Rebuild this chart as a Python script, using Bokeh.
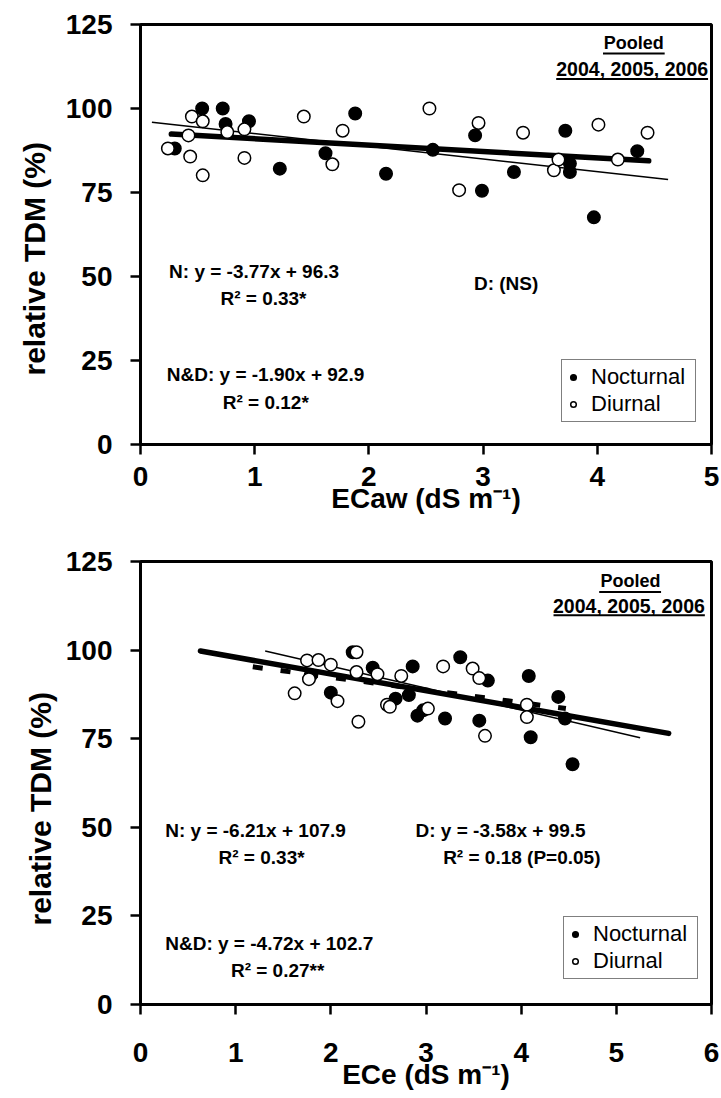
from bokeh.plotting import figure
from bokeh.models import Range1d, Label, FixedTicker, Title
from bokeh.layouts import column
from bokeh.embed import file_html
from bokeh.resources import INLINE

# ---------------- data: top panel (ECaw) ----------------
top_noct_x = [0.30, 0.54, 0.72, 0.745, 0.95, 1.22, 1.62, 1.88, 2.15, 2.56, 2.93, 2.99, 3.27, 3.72, 3.76, 3.76, 3.97, 4.35]
top_noct_y = [88.1, 100.0, 100.0, 95.4, 96.2, 82.1, 86.7, 98.5, 80.6, 87.7, 92.0, 75.5, 81.1, 93.4, 83.6, 81.1, 67.6, 87.3]
top_diur_x = [0.24, 0.42, 0.435, 0.45, 0.545, 0.545, 0.76, 0.91, 0.91, 1.43, 1.68, 1.77, 2.53, 2.79, 2.96, 3.35, 3.62, 3.66, 4.01, 4.18, 4.44]
top_diur_y = [88.1, 92.0, 85.7, 97.6, 96.2, 80.1, 93.0, 93.8, 85.3, 97.6, 83.4, 93.4, 100.0, 75.7, 95.7, 92.8, 81.6, 84.8, 95.2, 84.8, 92.8]
# regression lines: (slope, intercept, x_start, x_end)
top_fit_n = (-3.77, 96.3, 0.10, 4.62)
top_fit_nd = (-1.90, 92.9, 0.27, 4.45)
top_xticks = [0, 1, 2, 3, 4, 5]

# ---------------- data: bottom panel (ECe) ----------------
bot_noct_x = [1.79, 2.00, 2.23, 2.44, 2.68, 2.82, 2.86, 2.91, 2.97, 3.20, 3.36, 3.56, 3.65, 4.08, 4.10, 4.39, 4.46, 4.54]
bot_noct_y = [92.9, 88.0, 99.4, 95.0, 86.3, 87.3, 95.4, 81.5, 83.0, 80.7, 98.0, 80.1, 91.4, 92.7, 75.4, 86.8, 80.7, 67.8]
bot_diur_x = [1.62, 1.75, 1.77, 1.87, 2.00, 2.07, 2.27, 2.27, 2.29, 2.49, 2.59, 2.62, 2.74, 3.02, 3.18, 3.49, 3.56, 3.62, 4.06, 4.06]
bot_diur_y = [87.8, 97.1, 91.8, 97.2, 95.9, 85.6, 99.4, 93.8, 79.8, 93.2, 84.6, 84.0, 92.7, 83.5, 95.4, 94.8, 92.1, 75.8, 84.6, 81.1]
bot_fit_n = (-6.21, 107.9, 1.31, 5.25)
bot_fit_d = (-3.58, 99.5, 1.18, 4.47)
bot_fit_nd = (-4.72, 102.7, 0.63, 5.55)
bot_xticks = [0, 1, 2, 3, 4, 5, 6]

yticks = [0, 25, 50, 75, 100, 125]

FONT = "Liberation Sans"


def line_pts(fit):
    m, b, x0, x1 = fit
    return [x0, x1], [m * x0 + b, m * x1 + b]


def style(p, xticks, xlabel, label_standoff):
    p.xaxis.ticker = FixedTicker(ticks=xticks)
    p.yaxis.ticker = FixedTicker(ticks=yticks)
    p.xgrid.visible = False
    p.ygrid.visible = False
    p.outline_line_color = "black"
    p.outline_line_width = 3
    p.outline_line_alpha = 1
    for ax in (p.xaxis[0], p.yaxis[0]):
        ax.axis_line_width = 3
        ax.axis_line_color = "black"
        ax.major_tick_line_width = 2.5
        ax.major_tick_line_color = "black"
        ax.major_tick_out = 10
        ax.major_tick_in = 0
        ax.minor_tick_out = 0
        ax.minor_tick_in = 0
        ax.major_label_text_font = FONT
        ax.major_label_text_font_style = "bold"
        ax.major_label_text_font_size = "28px"
        ax.major_label_text_color = "black"
        ax.axis_label_text_font = FONT
        ax.axis_label_text_font_style = "bold"
        ax.axis_label_text_color = "black"
    p.xaxis.major_label_standoff = label_standoff
    p.yaxis.major_label_standoff = 18
    p.xaxis.axis_label = xlabel
    p.xaxis.axis_label_text_font_size = "28px"
    p.xaxis.axis_label_standoff = -6


def ann(p, x, y, text, align="left", size="19px"):
    p.add_layout(Label(x=x, y=y, text=text, text_font=FONT, text_font_style="bold",
                       text_font_size=size, text_baseline="middle", text_align=align,
                       text_color="black"))


def ytitle(p, offset, standoff):
    p.add_layout(Title(text="relative TDM (%)", align="left", offset=offset, standoff=standoff,
                       text_font=FONT, text_font_style="bold", text_font_size="30px",
                       text_color="black"), "left")


def points(p, nx, ny, dx, dy):
    p.scatter(nx, ny, size=12.5, marker="circle", fill_color="black", line_color="black",
              line_width=1.5, legend_label="Nocturnal")
    p.scatter(dx, dy, size=12.5, marker="circle", fill_color="white", line_color="black",
              line_width=1.5, legend_label="Diurnal")


def legend_style(p, loc):
    lg = p.legend[0]
    lg.location = loc
    lg.border_line_color = "black"
    lg.border_line_width = 1
    lg.background_fill_color = "white"
    lg.background_fill_alpha = 1
    lg.label_text_font = FONT
    lg.label_text_font_size = "22px"
    lg.label_text_color = "black"
    lg.glyph_width = 14
    lg.glyph_height = 14
    lg.label_standoff = 11
    lg.label_width = 100
    lg.label_height = 24
    lg.spacing = 1
    lg.padding = 4
    lg.margin = 0


# ---------------- top figure ----------------
p1 = figure(width=721, height=545, output_backend="svg", toolbar_location=None,
            x_range=Range1d(0, 5), y_range=Range1d(0, 125),
            min_border_left=136, min_border_right=10, min_border_top=24, min_border_bottom=101,
            background_fill_color="white", border_fill_color="white")
style(p1, top_xticks, "ECaw (dS m\u207b\u00b9)", 12)
ytitle(p1, 69, 24)

lx, ly = line_pts(top_fit_n)
p1.line(lx, ly, line_color="black", line_width=1.5)
lx, ly = line_pts(top_fit_nd)
p1.line(lx, ly, line_color="black", line_width=5.5, line_cap="round")
points(p1, top_noct_x, top_noct_y, top_diur_x, top_diur_y)
legend_style(p1, (421, 22))

ann(p1, 0.25, 51.6, "N: y = -3.77x + 96.3")
ann(p1, 0.70, 43.4, "R\u00b2 = 0.33*")
ann(p1, 2.92, 48.0, "D: (NS)")
ann(p1, 0.23, 20.8, "N&D: y = -1.90x + 92.9")
ann(p1, 0.72, 12.5, "R\u00b2 = 0.12*")
ann(p1, 4.32, 119.4, "Pooled", align="center", size="18px")
ann(p1, 4.97, 111.9, "2004, 2005, 2006", align="right", size="19.5px")
p1.segment(x0=[4.05, 3.64], y0=[116.4, 108.8], x1=[4.59, 4.97], y1=[116.4, 108.8],
           line_color="black", line_width=2)

# ---------------- bottom figure ----------------
p2 = figure(width=721, height=552, output_backend="svg", toolbar_location=None,
            x_range=Range1d(0, 6), y_range=Range1d(0, 125),
            min_border_left=140, min_border_right=10, min_border_top=16, min_border_bottom=93,
            background_fill_color="white", border_fill_color="white")
style(p2, bot_xticks, "ECe (dS m\u207b\u00b9)", 28)
ytitle(p2, 79, 11)

lx, ly = line_pts(bot_fit_n)
p2.line(lx, ly, line_color="black", line_width=1.5)
lx, ly = line_pts(bot_fit_d)
p2.line(lx, ly, line_color="black", line_width=5, line_dash="10 18")
lx, ly = line_pts(bot_fit_nd)
p2.line(lx, ly, line_color="black", line_width=5.5, line_cap="round")
points(p2, bot_noct_x, bot_noct_y, bot_diur_x, bot_diur_y)
legend_style(p2, (423, 25))

ann(p2, 0.26, 49.2, "N: y = -6.21x + 107.9")
ann(p2, 0.82, 41.6, "R\u00b2 = 0.33*")
ann(p2, 2.89, 49.2, "D: y = -3.58x + 99.5")
ann(p2, 3.18, 41.6, "R\u00b2 = 0.18 (P=0.05)")
ann(p2, 0.26, 17.3, "N&D: y = -4.72x + 102.7")
ann(p2, 0.95, 9.5, "R\u00b2 = 0.27**")
ann(p2, 5.15, 119.4, "Pooled", align="center", size="18px")
ann(p2, 5.93, 112.4, "2004, 2005, 2006", align="right", size="19.5px")
p2.segment(x0=[4.82, 4.34], y0=[116.4, 109.8], x1=[5.47, 5.93], y1=[116.4, 109.8],
           line_color="black", line_width=2)

layout = column(p1, p2, spacing=0)
open("out.html", "w").write(file_html(layout, INLINE))
